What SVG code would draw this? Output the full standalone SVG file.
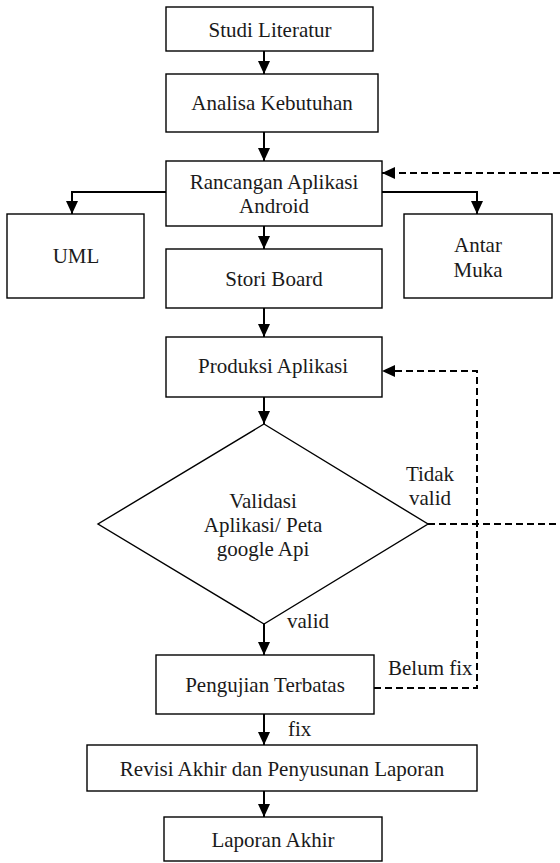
<svg xmlns="http://www.w3.org/2000/svg" width="560" height="863" viewBox="0 0 560 863">
<style>
.box{fill:#fff;stroke:#000;stroke-width:1.4}
.t{font-family:"Liberation Serif","Times New Roman",serif;font-size:21px;fill:#1a1a1a;text-anchor:middle}
.tl{font-family:"Liberation Serif","Times New Roman",serif;font-size:21px;fill:#1a1a1a}
.c{fill:none;stroke:#000;stroke-width:2}
.d{fill:none;stroke:#000;stroke-width:2;stroke-dasharray:7 4}
</style>
<defs>
<marker id="ah" markerUnits="userSpaceOnUse" markerWidth="14" markerHeight="14" viewBox="0 0 14 14" refX="13" refY="7" orient="auto">
<path d="M0,1 L13,7 L0,13 Z" fill="#000"/>
</marker>
</defs>
<rect width="560" height="863" fill="#fff"/>
<g id="connectors">
<line class="c" x1="264" y1="51" x2="264" y2="74" marker-end="url(#ah)"/>
<line class="c" x1="264" y1="132" x2="264" y2="161" marker-end="url(#ah)"/>
<path class="c" d="M166,192 H72 V214" marker-end="url(#ah)"/>
<path class="c" d="M382,192 H477 V214" marker-end="url(#ah)"/>
<line class="c" x1="264" y1="226" x2="264" y2="249" marker-end="url(#ah)"/>
<line class="c" x1="264" y1="308" x2="264" y2="337" marker-end="url(#ah)"/>
<line class="c" x1="264" y1="397" x2="264" y2="424" marker-end="url(#ah)"/>
<line class="c" x1="264" y1="624" x2="264" y2="655" marker-end="url(#ah)"/>
<line class="c" x1="264" y1="714" x2="264" y2="745" marker-end="url(#ah)"/>
<line class="c" x1="264" y1="791" x2="264" y2="817" marker-end="url(#ah)"/>
<path class="d" d="M428,524 H566 V173 H382" marker-end="url(#ah)"/>
<path class="d" d="M374,688 H477 V371 H382" marker-end="url(#ah)"/>
<text class="tl" x="287" y="628">valid</text>
<text class="t" x="430" y="481">Tidak</text>
<text class="t" x="430" y="505">valid</text>
<text class="tl" x="388" y="675">Belum fix</text>
<text class="tl" x="288" y="736">fix</text>
</g>
<g id="studi"><rect class="box" x="166" y="7" width="207" height="44"/><text class="t" x="270" y="37">Studi Literatur</text></g>
<g id="analisa"><rect class="box" x="166" y="74" width="212" height="58"/><text class="t" x="272" y="110">Analisa Kebutuhan</text></g>
<g id="rancangan"><rect class="box" x="166" y="161" width="216" height="65"/><text class="t" x="274" y="189">Rancangan Aplikasi</text><text class="t" x="274" y="213">Android</text></g>
<g id="uml"><rect class="box" x="7" y="214" width="137" height="84"/><text class="t" x="76" y="263">UML</text></g>
<g id="antarmuka"><rect class="box" x="404" y="214" width="148" height="84"/><text class="t" x="478" y="252">Antar</text><text class="t" x="478" y="277">Muka</text></g>
<g id="stori"><rect class="box" x="166" y="249" width="216" height="59"/><text class="t" x="274" y="286">Stori Board</text></g>
<g id="produksi"><rect class="box" x="166" y="337" width="216" height="60"/><text class="t" x="273" y="373">Produksi Aplikasi</text></g>
<g id="validasi"><polygon class="box" points="264,424 428,524 264,624 98,524"/><text class="t" x="263" y="508">Validasi</text><text class="t" x="263" y="532">Aplikasi/ Peta</text><text class="t" x="263" y="556">google Api</text></g>
<g id="pengujian"><rect class="box" x="156" y="655" width="218" height="59"/><text class="t" x="265" y="692">Pengujian Terbatas</text></g>
<g id="revisi"><rect class="box" x="87" y="745" width="390" height="46"/><text class="t" x="282" y="776">Revisi Akhir dan Penyusunan Laporan</text></g>
<g id="laporan"><rect class="box" x="164" y="817" width="218" height="44"/><text class="t" x="273" y="847">Laporan Akhir</text></g>
</svg>
